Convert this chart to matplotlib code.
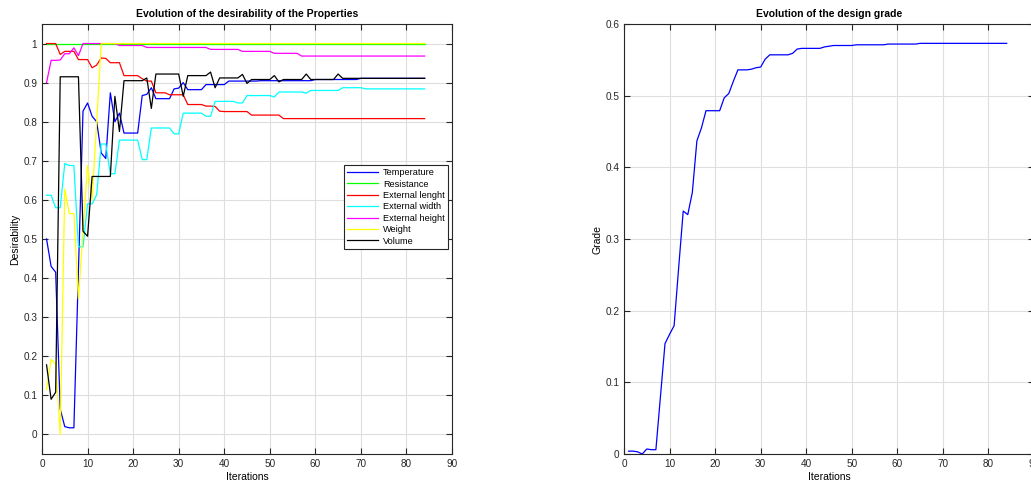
import matplotlib
matplotlib.use("Agg")
import matplotlib.pyplot as plt
import numpy as np

plt.rcParams['font.family'] = ['Liberation Sans', 'DejaVu Sans']

iterations = list(range(1, 85))

temperature = [0.50, 0.43, 0.415, 0.065, 0.02, 0.017, 0.017, 0.42, 0.827, 0.848,
               0.814, 0.80, 0.72, 0.706, 0.874, 0.80, 0.822, 0.771, 0.771, 0.771,
               0.771, 0.867, 0.87, 0.887, 0.859, 0.859, 0.859, 0.859, 0.884, 0.886,
               0.90, 0.882, 0.882, 0.882, 0.882, 0.895, 0.895, 0.895, 0.895, 0.895,
               0.904, 0.904, 0.904, 0.904, 0.904, 0.904, 0.904, 0.905, 0.905, 0.905,
               0.905, 0.905, 0.905, 0.905, 0.905, 0.905, 0.905, 0.905, 0.905, 0.908,
               0.908, 0.908, 0.908, 0.908, 0.908, 0.908, 0.908, 0.908, 0.908, 0.911,
               0.911, 0.911, 0.911, 0.911, 0.911, 0.911, 0.911, 0.911, 0.911, 0.911,
               0.911, 0.911, 0.911, 0.911]

resistance = [1.0] * 84

ext_length = [1.0, 1.0, 1.0, 0.972, 0.98, 0.98, 0.98, 0.959, 0.959, 0.959,
              0.938, 0.945, 0.963, 0.962, 0.951, 0.951, 0.951, 0.918, 0.918, 0.918,
              0.918, 0.91, 0.904, 0.904, 0.874, 0.874, 0.874, 0.869, 0.869, 0.869,
              0.869, 0.844, 0.844, 0.844, 0.844, 0.84, 0.84, 0.839, 0.827, 0.826,
              0.826, 0.826, 0.826, 0.826, 0.826, 0.817, 0.817, 0.817, 0.817, 0.817,
              0.817, 0.817, 0.808, 0.808, 0.808, 0.808, 0.808, 0.808, 0.808, 0.808,
              0.808, 0.808, 0.808, 0.808, 0.808, 0.808, 0.808, 0.808, 0.808, 0.808,
              0.808, 0.808, 0.808, 0.808, 0.808, 0.808, 0.808, 0.808, 0.808, 0.808,
              0.808, 0.808, 0.808, 0.808]

ext_width = [0.612, 0.612, 0.58, 0.58, 0.693, 0.688, 0.688, 0.48, 0.48, 0.59,
             0.59, 0.613, 0.743, 0.743, 0.667, 0.667, 0.753, 0.753, 0.753, 0.753,
             0.753, 0.703, 0.703, 0.784, 0.784, 0.784, 0.784, 0.784, 0.769, 0.769,
             0.822, 0.822, 0.822, 0.822, 0.822, 0.814, 0.814, 0.852, 0.852, 0.852,
             0.852, 0.852, 0.848, 0.848, 0.867, 0.867, 0.867, 0.867, 0.867, 0.867,
             0.863, 0.876, 0.876, 0.876, 0.876, 0.876, 0.876, 0.873, 0.88, 0.88,
             0.88, 0.88, 0.88, 0.88, 0.88, 0.887, 0.887, 0.887, 0.887, 0.887,
             0.884, 0.884, 0.884, 0.884, 0.884, 0.884, 0.884, 0.884, 0.884, 0.884,
             0.884, 0.884, 0.884, 0.884]

ext_height = [0.90, 0.957, 0.957, 0.958, 0.974, 0.974, 0.989, 0.969, 1.0, 1.0,
              1.0, 1.0, 1.0, 1.0, 1.0, 1.0, 0.995, 0.995, 0.995, 0.995,
              0.995, 0.995, 0.99, 0.99, 0.99, 0.99, 0.99, 0.99, 0.99, 0.99,
              0.99, 0.99, 0.99, 0.99, 0.99, 0.99, 0.985, 0.985, 0.985, 0.985,
              0.985, 0.985, 0.985, 0.98, 0.98, 0.98, 0.98, 0.98, 0.98, 0.98,
              0.975, 0.975, 0.975, 0.975, 0.975, 0.975, 0.968, 0.968, 0.968, 0.968,
              0.968, 0.968, 0.968, 0.968, 0.968, 0.968, 0.968, 0.968, 0.968, 0.968,
              0.968, 0.968, 0.968, 0.968, 0.968, 0.968, 0.968, 0.968, 0.968, 0.968,
              0.968, 0.968, 0.968, 0.968]

weight = [0.115, 0.192, 0.18, 0.0, 0.628, 0.565, 0.565, 0.347, 0.52, 0.688,
          0.60, 0.80] + [1.0] * 72

volume = [0.178, 0.09, 0.108, 0.915, 0.915, 0.915, 0.915, 0.915, 0.52, 0.507,
          0.66, 0.66, 0.66, 0.66, 0.66, 0.865, 0.775, 0.905, 0.905, 0.905,
          0.905, 0.905, 0.912, 0.834, 0.922, 0.922, 0.922, 0.922, 0.922, 0.922,
          0.865, 0.918, 0.918, 0.918, 0.918, 0.918, 0.927, 0.887, 0.912, 0.912,
          0.912, 0.912, 0.912, 0.921, 0.898, 0.908, 0.908, 0.908, 0.908, 0.908,
          0.918, 0.902, 0.908, 0.908, 0.908, 0.908, 0.908, 0.922, 0.908, 0.908,
          0.908, 0.908, 0.908, 0.908, 0.922, 0.911, 0.911, 0.911, 0.911, 0.911,
          0.911, 0.911, 0.911, 0.911, 0.911, 0.911, 0.911, 0.911, 0.911, 0.911,
          0.911, 0.911, 0.911, 0.911]

grade = [0.004, 0.004, 0.003, 0.0, 0.007, 0.006, 0.006, 0.08, 0.154, 0.167,
         0.179, 0.26, 0.339, 0.334, 0.365, 0.437, 0.455, 0.479, 0.479, 0.479,
         0.479, 0.497, 0.503, 0.52, 0.536, 0.536, 0.536, 0.537, 0.539, 0.54,
         0.551, 0.557, 0.557, 0.557, 0.557, 0.557, 0.559, 0.565, 0.566, 0.566,
         0.566, 0.566, 0.566, 0.568, 0.569, 0.57, 0.57, 0.57, 0.57, 0.57,
         0.571, 0.571, 0.571, 0.571, 0.571, 0.571, 0.571, 0.572, 0.572, 0.572,
         0.572, 0.572, 0.572, 0.572, 0.573, 0.573, 0.573, 0.573, 0.573, 0.573,
         0.573, 0.573, 0.573, 0.573, 0.573, 0.573, 0.573, 0.573, 0.573, 0.573,
         0.573, 0.573, 0.573, 0.573]

series = [("Temperature", temperature, (0, 0, 1)),
          ("Resistance", resistance, (0, 1, 0)),
          ("External lenght", ext_length, (1, 0, 0)),
          ("External width", ext_width, (0, 1, 1)),
          ("External height", ext_height, (1, 0, 1)),
          ("Weight", weight, (1, 1, 0)),
          ("Volume", volume, (0, 0, 0))]


def matlab_style(ax):
    """box on, inward ticks on every side, light grid"""
    ax.grid(True, color='#dedede', linewidth=0.8)
    ax.set_axisbelow(True)
    ax.tick_params(direction='in', top=True, right=True, length=4,
                   width=0.8, labelsize=7.2, colors='#262626', pad=3.5)
    for s in ax.spines.values():
        s.set_color('#262626')
        s.set_linewidth(0.8)


fig = plt.figure(figsize=(10.31, 4.86), dpi=100)

ax1 = fig.add_axes([42 / 1031, 32 / 486, 410 / 1031, 430 / 486])
for name, vals, col in series:
    ax1.plot(iterations, vals, color=col, linewidth=0.9, label=name)
ax1.set_xlim(0, 90)
ax1.set_ylim(-0.05, 1.05)
ax1.set_xticks(np.arange(0, 91, 10))
ax1.set_yticks(np.arange(0, 1.01, 0.1))
ax1.set_yticklabels(['0', '0.1', '0.2', '0.3', '0.4', '0.5', '0.6', '0.7', '0.8', '0.9', '1'])
matlab_style(ax1)
ax1.set_title("Evolution of the desirability of the Properties", fontsize=7.5,
              fontweight='bold', pad=5)
ax1.set_xlabel("Iterations", fontsize=7.5, labelpad=2)
ax1.set_ylabel("Desirability", fontsize=7.5, labelpad=2)
leg = ax1.legend(loc='upper right', bbox_to_anchor=(0.99, 0.672), borderaxespad=0,
                 fontsize=6.6, fancybox=False, framealpha=1, edgecolor='#262626',
                 handlelength=3.4, labelspacing=0.26, borderpad=0.35, handletextpad=0.5)
leg.get_frame().set_linewidth(0.8)

ax2 = fig.add_axes([624 / 1031, 32 / 486, 410 / 1031, 430 / 486])
ax2.plot(iterations, grade, color=(0, 0, 1), linewidth=0.9)
ax2.set_xlim(0, 90)
ax2.set_ylim(0, 0.6)
ax2.set_xticks(np.arange(0, 91, 10))
ax2.set_yticks(np.arange(0, 0.61, 0.1))
ax2.set_yticklabels(['0', '0.1', '0.2', '0.3', '0.4', '0.5', '0.6'])
matlab_style(ax2)
ax2.set_title("Evolution of the design grade", fontsize=7.5, fontweight='bold', pad=5)
ax2.set_xlabel("Iterations", fontsize=7.5, labelpad=2)
ax2.set_ylabel("Grade", fontsize=7.5, labelpad=2)

fig.savefig("out.png", dpi=100)
